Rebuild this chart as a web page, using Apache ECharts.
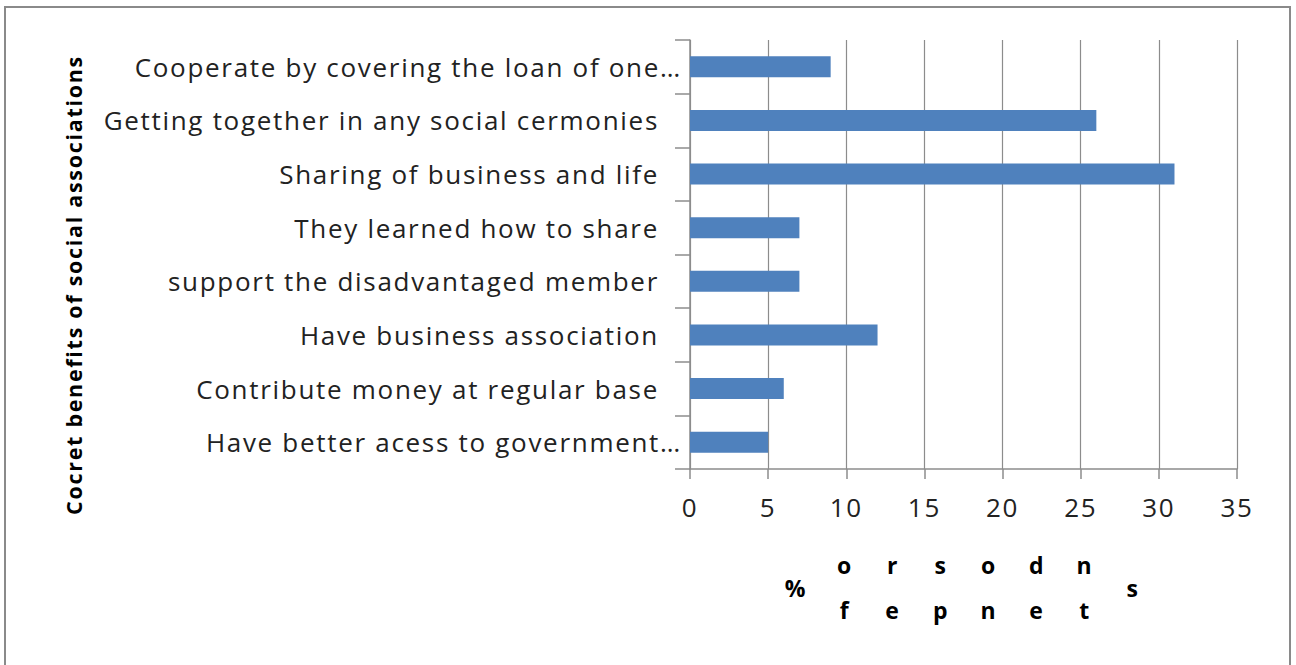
<!DOCTYPE html>
<html>
<head>
<meta charset="utf-8">
<script src="https://cdn.jsdelivr.net/npm/echarts@6/dist/echarts.min.js"></script>
<style>
  html, body { margin: 0; padding: 0; background: #fff; }
  #chart { width: 1296px; height: 665px; }
  /* widen the lettering of every label drawn by the SVG renderer */
  #chart svg text { letter-spacing: 1.7px; }
</style>
</head>
<body>
<div id="chart"></div>
<script>
// Benefit categories, listed bottom-to-top as the category axis draws them
const categories = [
  'Have better acess to government\u2026',
  'Contribute money at regular base',
  'Have business association',
  'support the disadvantaged member',
  'They learned how to share',
  'Sharing of business and life',
  'Getting together in any social cermonies',
  'Cooperate by covering the loan of one\u2026'
];
const percentRespondents = [5, 6, 12, 7, 7, 31, 26, 9];
const xTicks = [0, 5, 10, 15, 20, 25, 30, 35];
const yTitle = 'Cocret benefits of social associations';
const xTitle = '% of respondents';

const FONT = '"Open Sans", "Noto Sans", sans-serif';
const LABEL_SIZE = 26;
const GRID = { left: 690, right: 59, top: 40, bottom: 196 };

// The x-axis title is laid out letter by letter: "%" on the left, then the
// letters of the word alternate between an upper and a lower row, with the
// final letter centred on the right.
function buildXTitle() {
  const els = [];
  const parts = xTitle.split(' ');
  const pct = parts[0];
  const word = parts.slice(1).join('');
  const base = { fontFamily: FONT, fontWeight: 'bold', fontSize: 23, fill: '#000',
                 textAlign: 'center', textVerticalAlign: 'middle' };
  els.push({ type: 'text', x: 796, y: 588, style: Object.assign({ text: pct }, base) });
  const body = word.slice(0, word.length - 1);
  for (let i = 0; i < body.length; i++) {
    const col = Math.floor(i / 2);
    const upper = i % 2 === 0;
    els.push({ type: 'text', x: 845 + col * 48, y: upper ? 565 : 610,
               style: Object.assign({ text: body[i] }, base) });
  }
  els.push({ type: 'text', x: 1133, y: 588,
             style: Object.assign({ text: word[word.length - 1] }, base) });
  return els;
}

const chart = echarts.init(document.getElementById('chart'), null, { renderer: 'svg' });
chart.setOption({
  animation: false,
  backgroundColor: '#fff',
  grid: GRID,
  xAxis: {
    type: 'value',
    min: xTicks[0],
    max: xTicks[xTicks.length - 1],
    interval: 5,
    axisLine: { show: true, lineStyle: { color: '#8c8c8c', width: 1.5 } },
    axisTick: { show: true, length: 10, lineStyle: { color: '#8c8c8c', width: 1.5 } },
    splitLine: { show: true, lineStyle: { color: '#8c8c8c', width: 1.2 } },
    axisLabel: { color: '#222', fontFamily: FONT, fontSize: LABEL_SIZE, margin: 25 }
  },
  yAxis: {
    type: 'category',
    data: categories,
    axisLine: { show: true, lineStyle: { color: '#8c8c8c', width: 1.5 } },
    axisTick: { show: true, length: 15, lineStyle: { color: '#8c8c8c', width: 1.5 } },
    axisLabel: {
      margin: 8,
      fontFamily: FONT,
      fontSize: LABEL_SIZE,
      color: '#222',
      formatter: v => v.endsWith('\u2026') ? '{t|' + v + '}' : '{n|' + v + '}',
      rich: {
        t: { fontFamily: FONT, fontSize: LABEL_SIZE, color: '#222' },
        n: { fontFamily: FONT, fontSize: LABEL_SIZE, color: '#222', padding: [0, 23, 0, 0] }
      }
    }
  },
  series: [{
    type: 'bar',
    data: percentRespondents,
    barWidth: 21,
    itemStyle: { color: '#4F81BD' }
  }],
  graphic: [
    { type: 'rect', shape: { x: 5, y: 7, width: 1285, height: 700 },
      style: { fill: 'none', stroke: '#8a8a8a', lineWidth: 2 }, z: 100 },
    { type: 'text', x: 73, y: 285, rotation: Math.PI / 2,
      style: { text: yTitle, fontFamily: FONT, fontWeight: 'bold', fontSize: 21.5,
               fill: '#000', textAlign: 'center', textVerticalAlign: 'middle' } }
  ].concat(buildXTitle())
});
</script>
</body>
</html>
